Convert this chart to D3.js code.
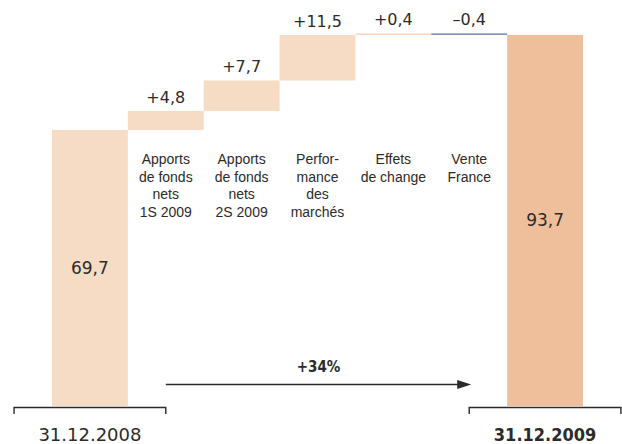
<!DOCTYPE html>
<html>
<head>
<meta charset="utf-8">
<script src="https://cdn.jsdelivr.net/npm/d3@7"></script>
<style>
  html, body { margin: 0; padding: 0; background: #fff; }
  svg { display: block; }
</style>
</head>
<body>
<svg id="chart" width="622" height="444"></svg>
<script>
// waterfall data
const steps = ["start", "apports1", "apports2", "perf", "change", "vente", "end"];
const values = [69.7, 4.8, 7.7, 11.5, 0.4, -0.4, 93.7];
const isTotal = [true, false, false, false, false, false, true];
const stepLabels = [
  [],
  ["Apports", "de fonds", "nets", "1S 2009"],
  ["Apports", "de fonds", "nets", "2S 2009"],
  ["Perfor-", "mance", "des", "marchés"],
  ["Effets", "de change"],
  ["Vente", "France"],
  []
];
const dates = ["31.12.2008", "31.12.2009"];
const growthLabel = "+34%";

const svg = d3.select("#chart");
const num = "'DejaVu Sans', sans-serif";
const txt = "'Liberation Sans', Arial, sans-serif";
const ink = "#2b2b2b";

const locale = d3.formatLocale({decimal: ",", thousands: " ", grouping: [3], currency: ["", ""], minus: "\u2013"});
const fmt = locale.format(".1f");
const fmtSigned = locale.format("+.1f");

// running totals
let run = 0;
const bars = steps.map((s, i) => {
  let y0, y1;
  if (isTotal[i]) { y0 = 0; y1 = values[i]; run = values[i]; }
  else { y0 = run; y1 = run + values[i]; run = y1; }
  return {key: s, i, v: values[i], lo: Math.min(y0, y1), hi: Math.max(y0, y1), total: isTotal[i]};
});

const x = d3.scaleBand().domain(steps).range([52, 583]).padding(0);
const y = d3.scaleLinear().domain([0, 100]).range([406, 10]);
const bw = x.bandwidth();

function barFill(d) {
  if (d.total && d.i === steps.length - 1) return "#efbf9b";
  if (d.v < 0) return "#7f8eac";
  return "#f6dbc5";
}

const g = svg.append("g").attr("class", "bars");
g.selectAll("rect")
  .data(bars)
  .join("rect")
  .attr("x", d => x(d.key))
  .attr("width", bw)
  .attr("y", d => y(d.hi))
  .attr("height", d => Math.max(1, y(d.lo) - y(d.hi)))
  .attr("fill", barFill);

// values above the steps
g.selectAll("text.delta")
  .data(bars.filter(d => !d.total))
  .join("text")
  .attr("class", "delta")
  .attr("x", d => x(d.key) + bw / 2)
  .attr("y", d => y(d.hi) - 8)
  .attr("text-anchor", "middle")
  .attr("font-family", num)
  .attr("font-size", 16)
  .attr("fill", ink)
  .text(d => fmtSigned(d.v));

// values inside totals
g.selectAll("text.total")
  .data(bars.filter(d => d.total))
  .join("text")
  .attr("class", "total")
  .attr("x", d => x(d.key) + bw / 2)
  .attr("y", d => (y(d.hi) + y(d.lo)) / 2 + 6)
  .attr("text-anchor", "middle")
  .attr("font-family", num)
  .attr("font-size", 17)
  .attr("fill", ink)
  .text(d => fmt(d.v));

// category labels
const lab = svg.append("g").attr("class", "cat_labels");
bars.forEach(d => {
  const t = lab.append("text")
    .attr("text-anchor", "middle")
    .attr("font-family", txt)
    .attr("font-size", 14)
    .attr("fill", ink);
  stepLabels[d.i].forEach((line, k) => {
    t.append("tspan")
      .attr("x", x(d.key) + bw / 2)
      .attr("y", 164 + k * 17.5)
      .text(line);
  });
});

// date brackets
const ends = [bars[0], bars[bars.length - 1]];
const ax = svg.append("g").attr("class", "date_axis");
ends.forEach((d, k) => {
  const cx = x(d.key) + bw / 2;
  const x0 = cx - bw, x1 = cx + bw;
  ax.append("path")
    .attr("d", `M${x0},414V407.5H${x1}V414`)
    .attr("fill", "none")
    .attr("stroke", ink)
    .attr("stroke-width", 1.4);
  ax.append("text")
    .attr("x", cx)
    .attr("y", 441)
    .attr("text-anchor", "middle")
    .attr("font-family", num)
    .attr("font-size", 18)
    .attr("font-weight", k === 1 ? "bold" : "normal")
    .attr("font-stretch", k === 1 ? "condensed" : "normal")
    .attr("fill", ink)
    .text(dates[k]);
});

// growth arrow
const ax0 = x(ends[0].key) + bw / 2 + bw;
const ax1 = x(ends[1].key) + bw / 2 - bw + 2;
const ay = 384.5;
svg.append("line")
  .attr("x1", ax0).attr("x2", ax1 - 12)
  .attr("y1", ay).attr("y2", ay)
  .attr("stroke", ink)
  .attr("stroke-width", 1.4);
svg.append("path")
  .attr("d", `M${ax1},${ay}L${ax1 - 14},${ay - 4.5}L${ax1 - 14},${ay + 4.5}Z`)
  .attr("fill", ink);
svg.append("text")
  .attr("x", (ax0 + ax1) / 2)
  .attr("y", 372)
  .attr("text-anchor", "middle")
  .attr("font-family", num)
  .attr("font-size", 15)
  .attr("font-weight", "bold")
  .attr("font-stretch", "condensed")
  .attr("fill", ink)
  .text(growthLabel);
</script>
</body>
</html>
